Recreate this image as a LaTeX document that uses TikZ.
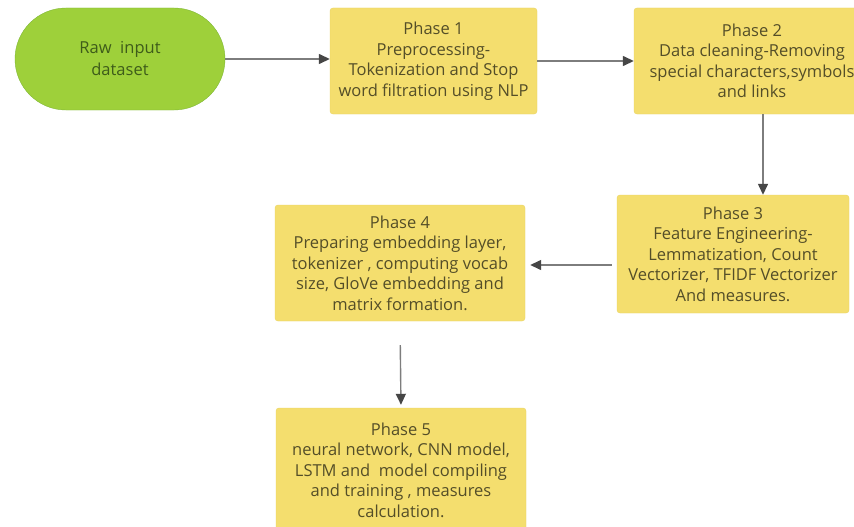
\documentclass[tikz,border=0pt]{standalone}
\usepackage{fontspec}
\setmainfont{Open Sans}
\usetikzlibrary{arrows.meta}
\definecolor{phasefill}{RGB}{244,222,110}
\definecolor{phaseline}{RGB}{234,212,98}
\definecolor{phasetext}{RGB}{84,78,40}
\definecolor{rawfill}{RGB}{158,208,58}
\definecolor{rawline}{RGB}{128,184,56}
\definecolor{rawtext}{RGB}{62,92,26}
\definecolor{flowline}{RGB}{125,125,125}
\definecolor{flowtip}{RGB}{70,70,70}
\tikzset{
	phase/.style = {draw = phaseline, fill = phasefill, rounded corners = 3pt, text = phasetext, align = center, inner sep = 0pt, font = \fontsize{16.5}{20.5}\selectfont},
	flow/.style = {draw = flowline, line width = 1.4pt, -{Triangle[length = 11pt, width = 10pt, color = flowtip]}},
}
\begin{document}
\begin{tikzpicture}[x = 1pt, y = -1pt]
	\clip (0,0) rectangle (854,527);
	\fill[white] (0,0) rectangle (854,527);
	% the input and the five phases
	\node [draw = rawline, fill = rawfill, rounded corners = 51pt, minimum width = 210pt, minimum height = 102pt, text = rawtext, align = center, font = \fontsize{16.5}{22}\selectfont] (raw) at (120,59) {Raw\ \ input\\dataset};
	\node [phase, minimum width = 207pt, minimum height = 106pt] (p1) at (433.5,61) {Phase 1\\Preprocessing-\\Tokenization and Stop\\word filtration using NLP};
	\node [phase, minimum width = 236pt, minimum height = 106pt] (p2) at (752,61) {Phase 2\\Data cleaning-Removing\\special characters,symbols\\and links};
	\node [phase, minimum width = 232pt, minimum height = 118pt] (p3) at (733,254) {Phase 3\\Feature Engineering-\\Lemmatization, Count\\Vectorizer, TFIDF Vectorizer\\And measures.};
	\node [phase, minimum width = 250pt, minimum height = 116pt] (p4) at (400,263) {Phase 4\\Preparing embedding layer,\\tokenizer , computing vocab\\size, GloVe embedding and\\matrix formation.};
	\node [phase, minimum width = 250pt, minimum height = 124pt] (p5) at (401,470) {Phase 5\\neural network, CNN model,\\LSTM and\ \ model compiling\\and training , measures\\calculation.};
	% connectors
	\draw [flow] (raw.east) -- (raw.east -| p1.west);
	\draw [flow] (p1.east) -- (p1.east -| p2.west);
	\draw [flow] ([xshift = 11pt]p2.south) -- ([xshift = 11pt]p2.south |- p3.north);
	\draw [flow, shorten > = 5pt, shorten < = 5pt] ([yshift = -11pt]p3.west) -- ([yshift = -11pt]p3.west -| p4.east);
	\draw [flow, shorten < = 24pt, shorten > = 3pt] (p4.south) -- (p5.north);
\end{tikzpicture}
\end{document}
